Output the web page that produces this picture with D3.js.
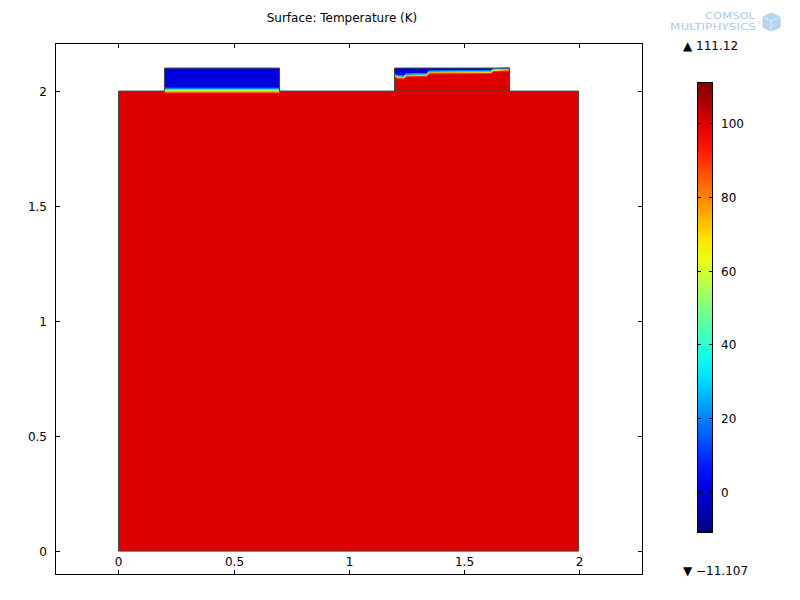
<!DOCTYPE html>
<html><head><meta charset="utf-8">
<script src="https://cdn.jsdelivr.net/npm/d3@7"></script>
<style>body{margin:0;background:#fff;} text{font-family:"DejaVu Sans",sans-serif;}</style>
</head><body>
<svg id="c" width="800" height="600"></svg>
<script>
// ---- data ----
const title = "Surface: Temperature (K)";
const xLim = [-0.276, 2.28];
const yLim = [-0.104, 2.209];
const xTicks = [0, 0.5, 1, 1.5, 2];
const yTicks = [0, 0.5, 1, 1.5, 2];
const tMin = -11.107, tMax = 111.12;
const cbTicks = [0, 20, 40, 60, 80, 100];
// domains: [x0, x1, y0, y1, temperature]
const body = [0, 2, 0, 2, 100];
const leftBlock = [0.2, 0.7, 2, 2.1, 0];
const rightBlock = [1.2, 1.7, 2, 2.1, 100];
const rightColdT = 0;
// left block: temperature across the thin layer at its base (y, T)
const leftLayerY = [2.018, 2.011, 2.006, 2.001, 1.995, 1.988];
const leftLayerT = [0, 20, 40, 62, 82, 100];
// right block: cold/warm interface profile
const ifaceX = [1.2, 1.215, 1.241, 1.25, 1.341, 1.35, 1.62, 1.632, 1.7];
const ifaceY = [2.067, 2.063, 2.061, 2.070, 2.072, 2.083, 2.085, 2.093, 2.096];

// ---- setup ----
const svg = d3.select("#c");
const x = d3.scaleLinear().domain(xLim).range([55, 643]);
const y = d3.scaleLinear().domain(yLim).range([575, 43]);
const cl = v => Math.max(0, Math.min(1, v));
function jet(t){ return d3.rgb(255*cl(1.5-Math.abs(4*t-3)), 255*cl(1.5-Math.abs(4*t-2)), 255*cl(1.5-Math.abs(4*t-1))); }
const tn = d3.scaleLinear().domain([tMin, tMax]).range([0,1]).clamp(true);
const col = T => jet(tn(T)).formatHex();
const defs = svg.append("defs");

// title
svg.append("text").attr("x", 342).attr("y", 22).attr("text-anchor","middle").attr("font-size",12).attr("fill","#000").text(title);

// clip to plot frame
defs.append("clipPath").attr("id","pc").append("rect").attr("x",55).attr("y",43).attr("width",588).attr("height",532);
const g = svg.append("g").attr("clip-path","url(#pc)");

function rect(d, fill){
  return g.append("rect").attr("x", x(d[0])).attr("y", y(d[3])).attr("width", x(d[1])-x(d[0])).attr("height", y(d[2])-y(d[3])).attr("fill", fill);
}
rect(body, col(body[4]));
rect(leftBlock, col(leftBlock[4]));
rect(rightBlock, col(rightBlock[4]));

// left block base layer gradient
const ly0 = y(leftLayerY[0]), ly1 = y(leftLayerY[leftLayerY.length-1]);
const lg = defs.append("linearGradient").attr("id","lg").attr("gradientUnits","userSpaceOnUse")
  .attr("x1",0).attr("x2",0).attr("y1", ly0).attr("y2", ly1);
leftLayerY.forEach((yy,i)=>{
  lg.append("stop").attr("offset", (y(yy)-ly0)/(ly1-ly0)).attr("stop-color", col(leftLayerT[i]));
});
g.append("rect").attr("x", x(leftBlock[0])).attr("width", x(leftBlock[1])-x(leftBlock[0]))
  .attr("y", ly0).attr("height", ly1 - ly0).attr("fill","url(#lg)");

// right block cold region
const pts = ifaceX.map((xx,i)=>[x(xx), y(ifaceY[i])]);
const cold = [[x(rightBlock[0]), y(rightBlock[3])]].concat(pts).concat([[x(rightBlock[1]), y(rightBlock[3])]]);
g.append("path").attr("d", d3.line()(cold)+"Z").attr("fill", col(rightColdT));
const ln = d3.line();
g.append("path").attr("d", ln(pts.map(p=>[p[0], p[1]-1.2]))).attr("fill","none").attr("stroke", col(20)).attr("stroke-width",1.2);
g.append("path").attr("d", ln(pts.map(p=>[p[0], p[1]]))).attr("fill","none").attr("stroke", col(45)).attr("stroke-width",1.2);
g.append("path").attr("d", ln(pts.map(p=>[p[0], p[1]+1]))).attr("fill","none").attr("stroke", col(70)).attr("stroke-width",1);
g.append("path").attr("d", ln(pts.map(p=>[p[0], p[1]+1.9]))).attr("fill","none").attr("stroke", col(88)).attr("stroke-width",0.8);

// outlines
const outline = [[body[0],body[2]],[body[0],body[3]],[leftBlock[0],body[3]],[leftBlock[0],leftBlock[3]],[leftBlock[1],leftBlock[3]],[leftBlock[1],body[3]],
  [rightBlock[0],body[3]],[rightBlock[0],rightBlock[3]],[rightBlock[1],rightBlock[3]],[rightBlock[1],body[3]],[body[1],body[3]],[body[1],body[2]]];
g.append("path").attr("d", d3.line().x(d=>x(d[0])).y(d=>y(d[1]))(outline)+"Z").attr("fill","none").attr("stroke","#444").attr("stroke-width",1);
g.append("line").attr("x1", x(rightBlock[0])).attr("x2", x(rightBlock[1])).attr("y1", y(rightBlock[2])).attr("y2", y(rightBlock[2])).attr("stroke","#444");

// frame and axes
svg.append("rect").attr("x",55.5).attr("y",43.5).attr("width",587).attr("height",531).attr("fill","none").attr("stroke","#000");
const ax = svg.append("g").attr("stroke","#000");
xTicks.forEach(v=>{
  const px = Math.round(x(v))+0.5;
  ax.append("line").attr("x1",px).attr("x2",px).attr("y1",575).attr("y2",570);
  ax.append("line").attr("x1",px).attr("x2",px).attr("y1",43).attr("y2",48);
  svg.append("text").attr("x",px).attr("y",566).attr("text-anchor","middle").attr("font-size",12).text(v);
});
yTicks.forEach(v=>{
  const py = Math.round(y(v))+0.5;
  ax.append("line").attr("x1",55).attr("x2",60).attr("y1",py).attr("y2",py);
  ax.append("line").attr("x1",643).attr("x2",638).attr("y1",py).attr("y2",py);
  svg.append("text").attr("x",47).attr("y",py+4).attr("text-anchor","end").attr("font-size",12).text(v);
});

// colorbar
const cb = d3.scaleLinear().domain([tMin, tMax]).range([532.5, 82.5]);
const cg = defs.append("linearGradient").attr("id","cg").attr("x1",0).attr("x2",0).attr("y1",1).attr("y2",0);
d3.range(0, 1.0001, 0.05).forEach(t=>cg.append("stop").attr("offset",t).attr("stop-color", jet(t).formatHex()));
svg.append("rect").attr("x",697.5).attr("y",cb(tMax)).attr("width",15).attr("height",cb(tMin)-cb(tMax)).attr("fill","url(#cg)").attr("stroke","#000");
cbTicks.forEach(v=>{
  const py = Math.round(cb(v))+0.5;
  svg.append("line").attr("x1",697.5).attr("x2",701).attr("y1",py).attr("y2",py).attr("stroke","#000");
  svg.append("line").attr("x1",712.5).attr("x2",709).attr("y1",py).attr("y2",py).attr("stroke","#000");
  svg.append("text").attr("x",721).attr("y",py+4).attr("font-size",12).text(v);
});
svg.append("text").attr("x",683).attr("y",50).attr("font-size",12).text("\u25B2 " + tMax);
svg.append("text").attr("x",683).attr("y",575).attr("font-size",12).text("\u25BC \u2212" + Math.abs(tMin));

// logo
const lgc = "#a9cbe6";
svg.append("text").attr("x",705).attr("y",19).attr("font-size",9).attr("fill",lgc).attr("textLength",50).attr("lengthAdjust","spacingAndGlyphs").text("COMSOL");
svg.append("text").attr("x",670).attr("y",30).attr("font-size",9).attr("fill",lgc).attr("textLength",86).attr("lengthAdjust","spacingAndGlyphs").text("MULTIPHYSICS");
svg.append("text").attr("x",757).attr("y",24).attr("font-size",4).attr("fill",lgc).text("\u00AE");
svg.append("path").attr("d","M763,17 L771,13 L780,17 L780,27 L771,31 L763,27 Z").attr("fill","#b7d6ee").attr("stroke","#9cc3e3").attr("stroke-width",0.8);
svg.append("path").attr("d","M763,17 L771,21 L780,17 M771,21 L771,31").attr("fill","none").attr("stroke","#e8f2fa").attr("stroke-width",0.8);
</script>
</body></html>
